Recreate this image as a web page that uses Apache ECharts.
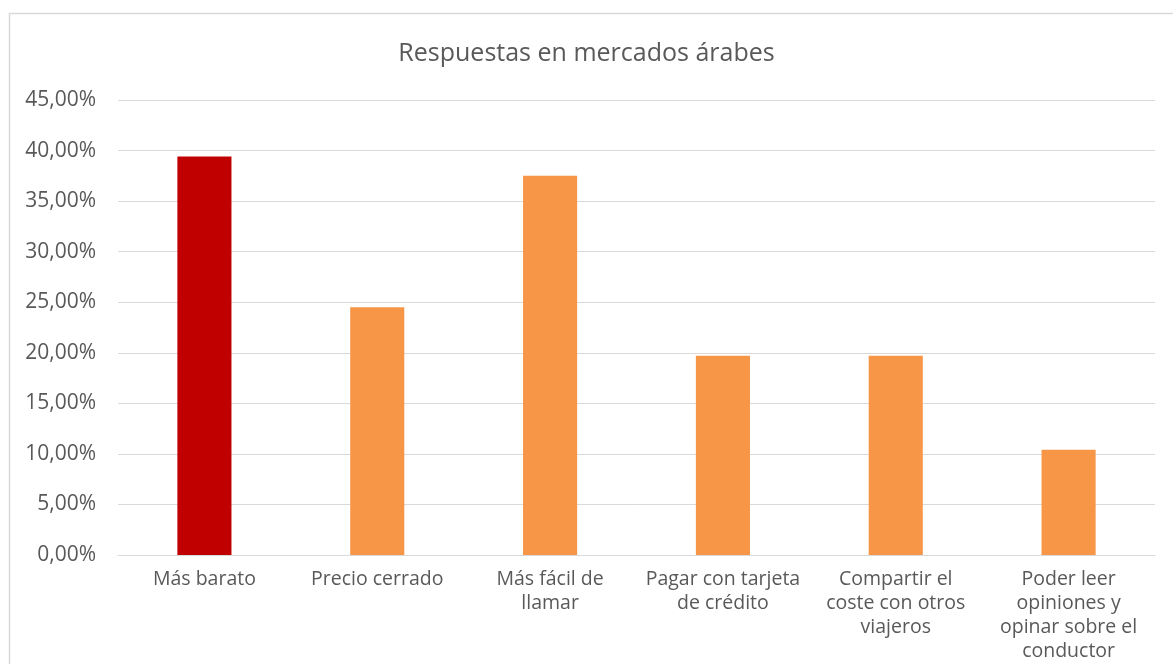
<!DOCTYPE html>
<html>
<head>
<meta charset="utf-8">
<script src="https://cdn.jsdelivr.net/npm/echarts@6/dist/echarts.min.js"></script>
<style>
html,body{margin:0;padding:0;background:#fff;}
#chart{width:1173px;height:664px;}
</style>
</head>
<body>
<div id="chart"></div>
<script>
const categories = [
  "Más barato",
  "Precio cerrado",
  "Más fácil de\nllamar",
  "Pagar con tarjeta\nde crédito",
  "Compartir el\ncoste con otros\nviajeros",
  "Poder leer\nopiniones y\nopinar sobre el\nconductor"
];
const values = [0.394, 0.245, 0.375, 0.197, 0.197, 0.104];
const barColors = ["#C00000", "#F79646", "#F79646", "#F79646", "#F79646", "#F79646"];
const titleText = "Respuestas en mercados árabes";

const chart = echarts.init(document.getElementById('chart'), null, {renderer: 'canvas'});
chart.setOption({
  animation: false,
  backgroundColor: '#ffffff',
  title: {
    text: titleText,
    left: 'center',
    top: 36,
    textStyle: {fontFamily: 'Open Sans', fontSize: 25, fontWeight: 'normal', color: '#595959'}
  },
  graphic: [{
    type: 'rect',
    left: 7, top: 11,
    shape: {width: 1200, height: 700},
    style: {fill: 'none', stroke: '#d9d9d9', lineWidth: 1.5},
    silent: true
  }],
  grid: {left: 118, right: 18, top: 100, bottom: 109, containLabel: false},
  xAxis: {
    type: 'category',
    data: categories,
    axisLine: {show: true, lineStyle: {color: '#d9d9d9', width: 1}},
    axisTick: {show: false},
    axisLabel: {
      interval: 0,
      margin: 12,
      color: '#595959',
      fontFamily: 'Open Sans',
      fontSize: 19.5,
      lineHeight: 24
    }
  },
  yAxis: {
    type: 'value',
    min: 0, max: 0.45, interval: 0.05,
    axisLine: {show: false},
    axisTick: {show: false},
    splitLine: {lineStyle: {color: '#d9d9d9', width: 1}},
    axisLabel: {
      margin: 22,
      color: '#595959',
      fontFamily: 'Open Sans',
      fontSize: 21,
      formatter: v => (v * 100).toFixed(2).replace('.', ',') + '%'
    }
  },
  series: [{
    type: 'bar',
    data: values.map((v, i) => ({value: v, itemStyle: {color: barColors[i]}})),
    barWidth: '31.3%'
  }]
});
</script>
</body>
</html>
